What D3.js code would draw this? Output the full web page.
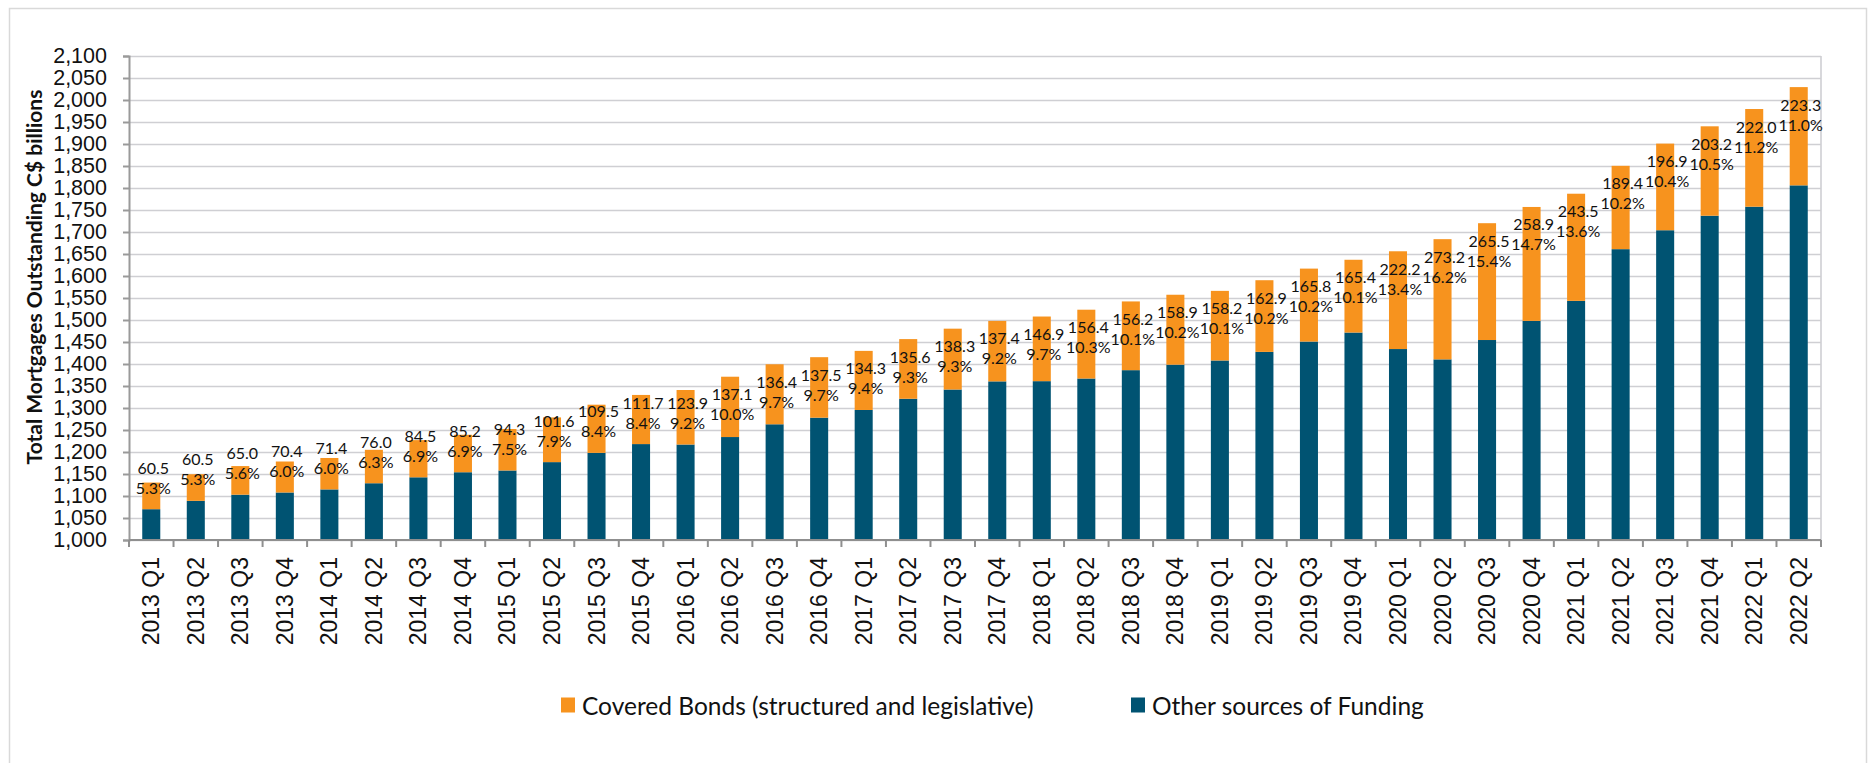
<!DOCTYPE html>
<html>
<head>
<meta charset="utf-8">
<script src="https://cdn.jsdelivr.net/npm/d3@7"></script>
<style>
  body { margin: 0; background: #fff; }
  svg { display: block; }
</style>
</head>
<body>
<svg id="chart" width="1870" height="763"></svg>
<script>
// quarters shown on the x axis
const quarters = [
    "2013 Q1", "2013 Q2", "2013 Q3", "2013 Q4",
    "2014 Q1", "2014 Q2", "2014 Q3", "2014 Q4",
    "2015 Q1", "2015 Q2", "2015 Q3", "2015 Q4",
    "2016 Q1", "2016 Q2", "2016 Q3", "2016 Q4",
    "2017 Q1", "2017 Q2", "2017 Q3", "2017 Q4",
    "2018 Q1", "2018 Q2", "2018 Q3", "2018 Q4",
    "2019 Q1", "2019 Q2", "2019 Q3", "2019 Q4",
    "2020 Q1", "2020 Q2", "2020 Q3", "2020 Q4",
    "2021 Q1", "2021 Q2", "2021 Q3", "2021 Q4",
    "2022 Q1", "2022 Q2"
];

// C$ billions, covered bonds (structured and legislative)
const covered = [
    60.5, 60.5, 65.0, 70.4,
    71.4, 76.0, 84.5, 85.2,
    94.3, 101.6, 109.5, 111.7,
    123.9, 137.1, 136.4, 137.5,
    134.3, 135.6, 138.3, 137.4,
    146.9, 156.4, 156.2, 158.9,
    158.2, 162.9, 165.8, 165.4,
    222.2, 273.2, 265.5, 258.9,
    243.5, 189.4, 196.9, 203.2,
    222.0, 223.3
];

// covered bonds as % of total mortgages
const coveredPct = [
    5.3, 5.3, 5.6, 6.0,
    6.0, 6.3, 6.9, 6.9,
    7.5, 7.9, 8.4, 8.4,
    9.2, 10.0, 9.7, 9.7,
    9.4, 9.3, 9.3, 9.2,
    9.7, 10.3, 10.1, 10.2,
    10.1, 10.2, 10.2, 10.1,
    13.4, 16.2, 15.4, 14.7,
    13.6, 10.2, 10.4, 10.5,
    11.2, 11.0
];

// C$ billions, other sources of funding
const otherFunding = [
    1070, 1089, 1103, 1108,
    1115, 1129, 1142.5, 1154,
    1158, 1177, 1198, 1218,
    1217, 1234, 1263, 1278,
    1295.5, 1321, 1342, 1360.5,
    1361, 1367, 1386, 1398.5,
    1408, 1427.5, 1451, 1471.5,
    1434, 1410.5, 1454.5, 1498,
    1543.5, 1661, 1704, 1737,
    1757.5, 1806
];

const yTicks = d3.range(1000, 2101, 50);
const seriesNames = ["Covered Bonds (structured and legislative)", "Other sources of Funding"];
const colors = { covered: "#F7931E", other: "#005372" };

const svg = d3.select("#chart");
const plot = { left: 129, right: 1821, top: 56, bottom: 540 };
const calibriLike = "Lato, 'Open Sans', sans-serif";
const arialLike = "'Liberation Sans', Arial, sans-serif";

// outer chart frame
svg.append("rect")
    .attr("x", 9.5).attr("y", 8.5)
    .attr("width", 1857).attr("height", 800)
    .attr("fill", "none").attr("stroke", "#d9d9d9").attr("stroke-width", 1.5);

const pad = 0.595;
const x = d3.scaleBand()
    .domain(quarters)
    .range([plot.left, plot.right])
    .paddingInner(pad)
    .paddingOuter(pad / 2);

const y = d3.scaleLinear()
    .domain([1000, 2100])
    .range([plot.bottom, plot.top]);

// gridlines
svg.append("g")
    .attr("transform", `translate(${plot.left},0)`)
    .call(d3.axisLeft(y).tickValues(yTicks).tickSize(-(plot.right - plot.left)).tickFormat(""))
    .call(g => g.select(".domain").remove())
    .call(g => g.selectAll("line").attr("stroke", "#cfcfd3").attr("stroke-width", 1.6));

// right edge of plot area
svg.append("line")
    .attr("x1", plot.right).attr("x2", plot.right)
    .attr("y1", plot.top).attr("y2", plot.bottom)
    .attr("stroke", "#cfcfd3").attr("stroke-width", 1.6);

// stacked bars
const rows = quarters.map((q, i) => ({
    q, other: otherFunding[i], covered: covered[i], pct: coveredPct[i]
}));

const bars = svg.append("g");
bars.selectAll("rect.other")
    .data(rows)
    .join("rect")
    .attr("class", "other")
    .attr("x", d => x(d.q))
    .attr("width", x.bandwidth())
    .attr("y", d => y(d.other))
    .attr("height", d => y(1000) - y(d.other))
    .attr("fill", colors.other);

bars.selectAll("rect.covered")
    .data(rows)
    .join("rect")
    .attr("class", "covered")
    .attr("x", d => x(d.q))
    .attr("width", x.bandwidth())
    .attr("y", d => y(d.other + d.covered))
    .attr("height", d => y(d.other) - y(d.other + d.covered))
    .attr("fill", colors.covered);

// y axis
svg.append("g")
    .attr("transform", `translate(${plot.left},0)`)
    .call(d3.axisLeft(y).tickValues(yTicks).tickSize(6).tickPadding(16).tickFormat(d3.format(",")))
    .call(g => g.select(".domain").attr("stroke", "#9a9a9a").attr("stroke-width", 2))
    .call(g => g.selectAll("line").attr("stroke", "#9a9a9a").attr("stroke-width", 2))
    .call(g => g.selectAll("text")
        .attr("font-family", arialLike).attr("font-size", 21.5).attr("fill", "#111"));

// x axis: line, boundary ticks, rotated labels
const step = x.step();
const xAxis = svg.append("g");
xAxis.append("line")
    .attr("x1", plot.left).attr("x2", plot.right)
    .attr("y1", plot.bottom).attr("y2", plot.bottom)
    .attr("stroke", "#8f8f8f").attr("stroke-width", 2);
xAxis.selectAll("line.tick")
    .data(quarters.concat([null]))
    .join("line")
    .attr("class", "tick")
    .attr("x1", (d, i) => plot.left + i * step)
    .attr("x2", (d, i) => plot.left + i * step)
    .attr("y1", plot.bottom).attr("y2", plot.bottom + 7)
    .attr("stroke", "#8f8f8f").attr("stroke-width", 2);
xAxis.selectAll("text")
    .data(quarters)
    .join("text")
    .attr("transform", d => `translate(${x(d) + x.bandwidth() / 2},${plot.bottom + 17}) rotate(-90)`)
    .attr("text-anchor", "end")
    .attr("dominant-baseline", "central")
    .attr("font-family", arialLike).attr("font-size", 23)
    .attr("fill", "#111")
    .text(d => d);

// data labels: value and share
const labels = svg.append("g")
    .attr("font-family", calibriLike).attr("font-size", 16)
    .attr("fill", "#111").attr("text-anchor", "middle");
labels.selectAll("g")
    .data(rows)
    .join("g")
    .each(function (d) {
        const top = y(d.other + d.covered);
        const h = y(d.other) - top;
        const ly = top + Math.min(17, h - 42);
        const cx = x(d.q) + x.bandwidth() / 2 + 2;
        const g = d3.select(this);
        g.append("text").attr("x", cx).attr("y", ly)
            .attr("dominant-baseline", "central").text(d.covered.toFixed(1));
        g.append("text").attr("x", cx).attr("y", ly + 20)
            .attr("dominant-baseline", "central").text(d.pct.toFixed(1) + "%");
    });

// y axis title
svg.append("text")
    .attr("transform", "translate(33,277) rotate(-90)")
    .attr("text-anchor", "middle")
    .attr("dominant-baseline", "central")
    .attr("font-family", calibriLike).attr("font-weight", "bold").attr("font-size", 21)
    .attr("fill", "#111")
    .text("Total Mortgages Outstanding C$ billions");

// legend
const legendItems = [
    { name: seriesNames[0], color: colors.covered, x: 561 },
    { name: seriesNames[1], color: colors.other, x: 1131 }
];
const leg = svg.append("g").attr("font-family", calibriLike).attr("font-size", 24.5).attr("fill", "#111");
legendItems.forEach(item => {
    const g = leg.append("g").attr("transform", `translate(${item.x},705)`);
    g.append("rect").attr("x", 0).attr("y", -7.5).attr("width", 14).attr("height", 15).attr("fill", item.color);
    g.append("text").attr("x", 21).attr("y", 0).attr("dominant-baseline", "central").text(item.name);
});
</script>
</body>
</html>
